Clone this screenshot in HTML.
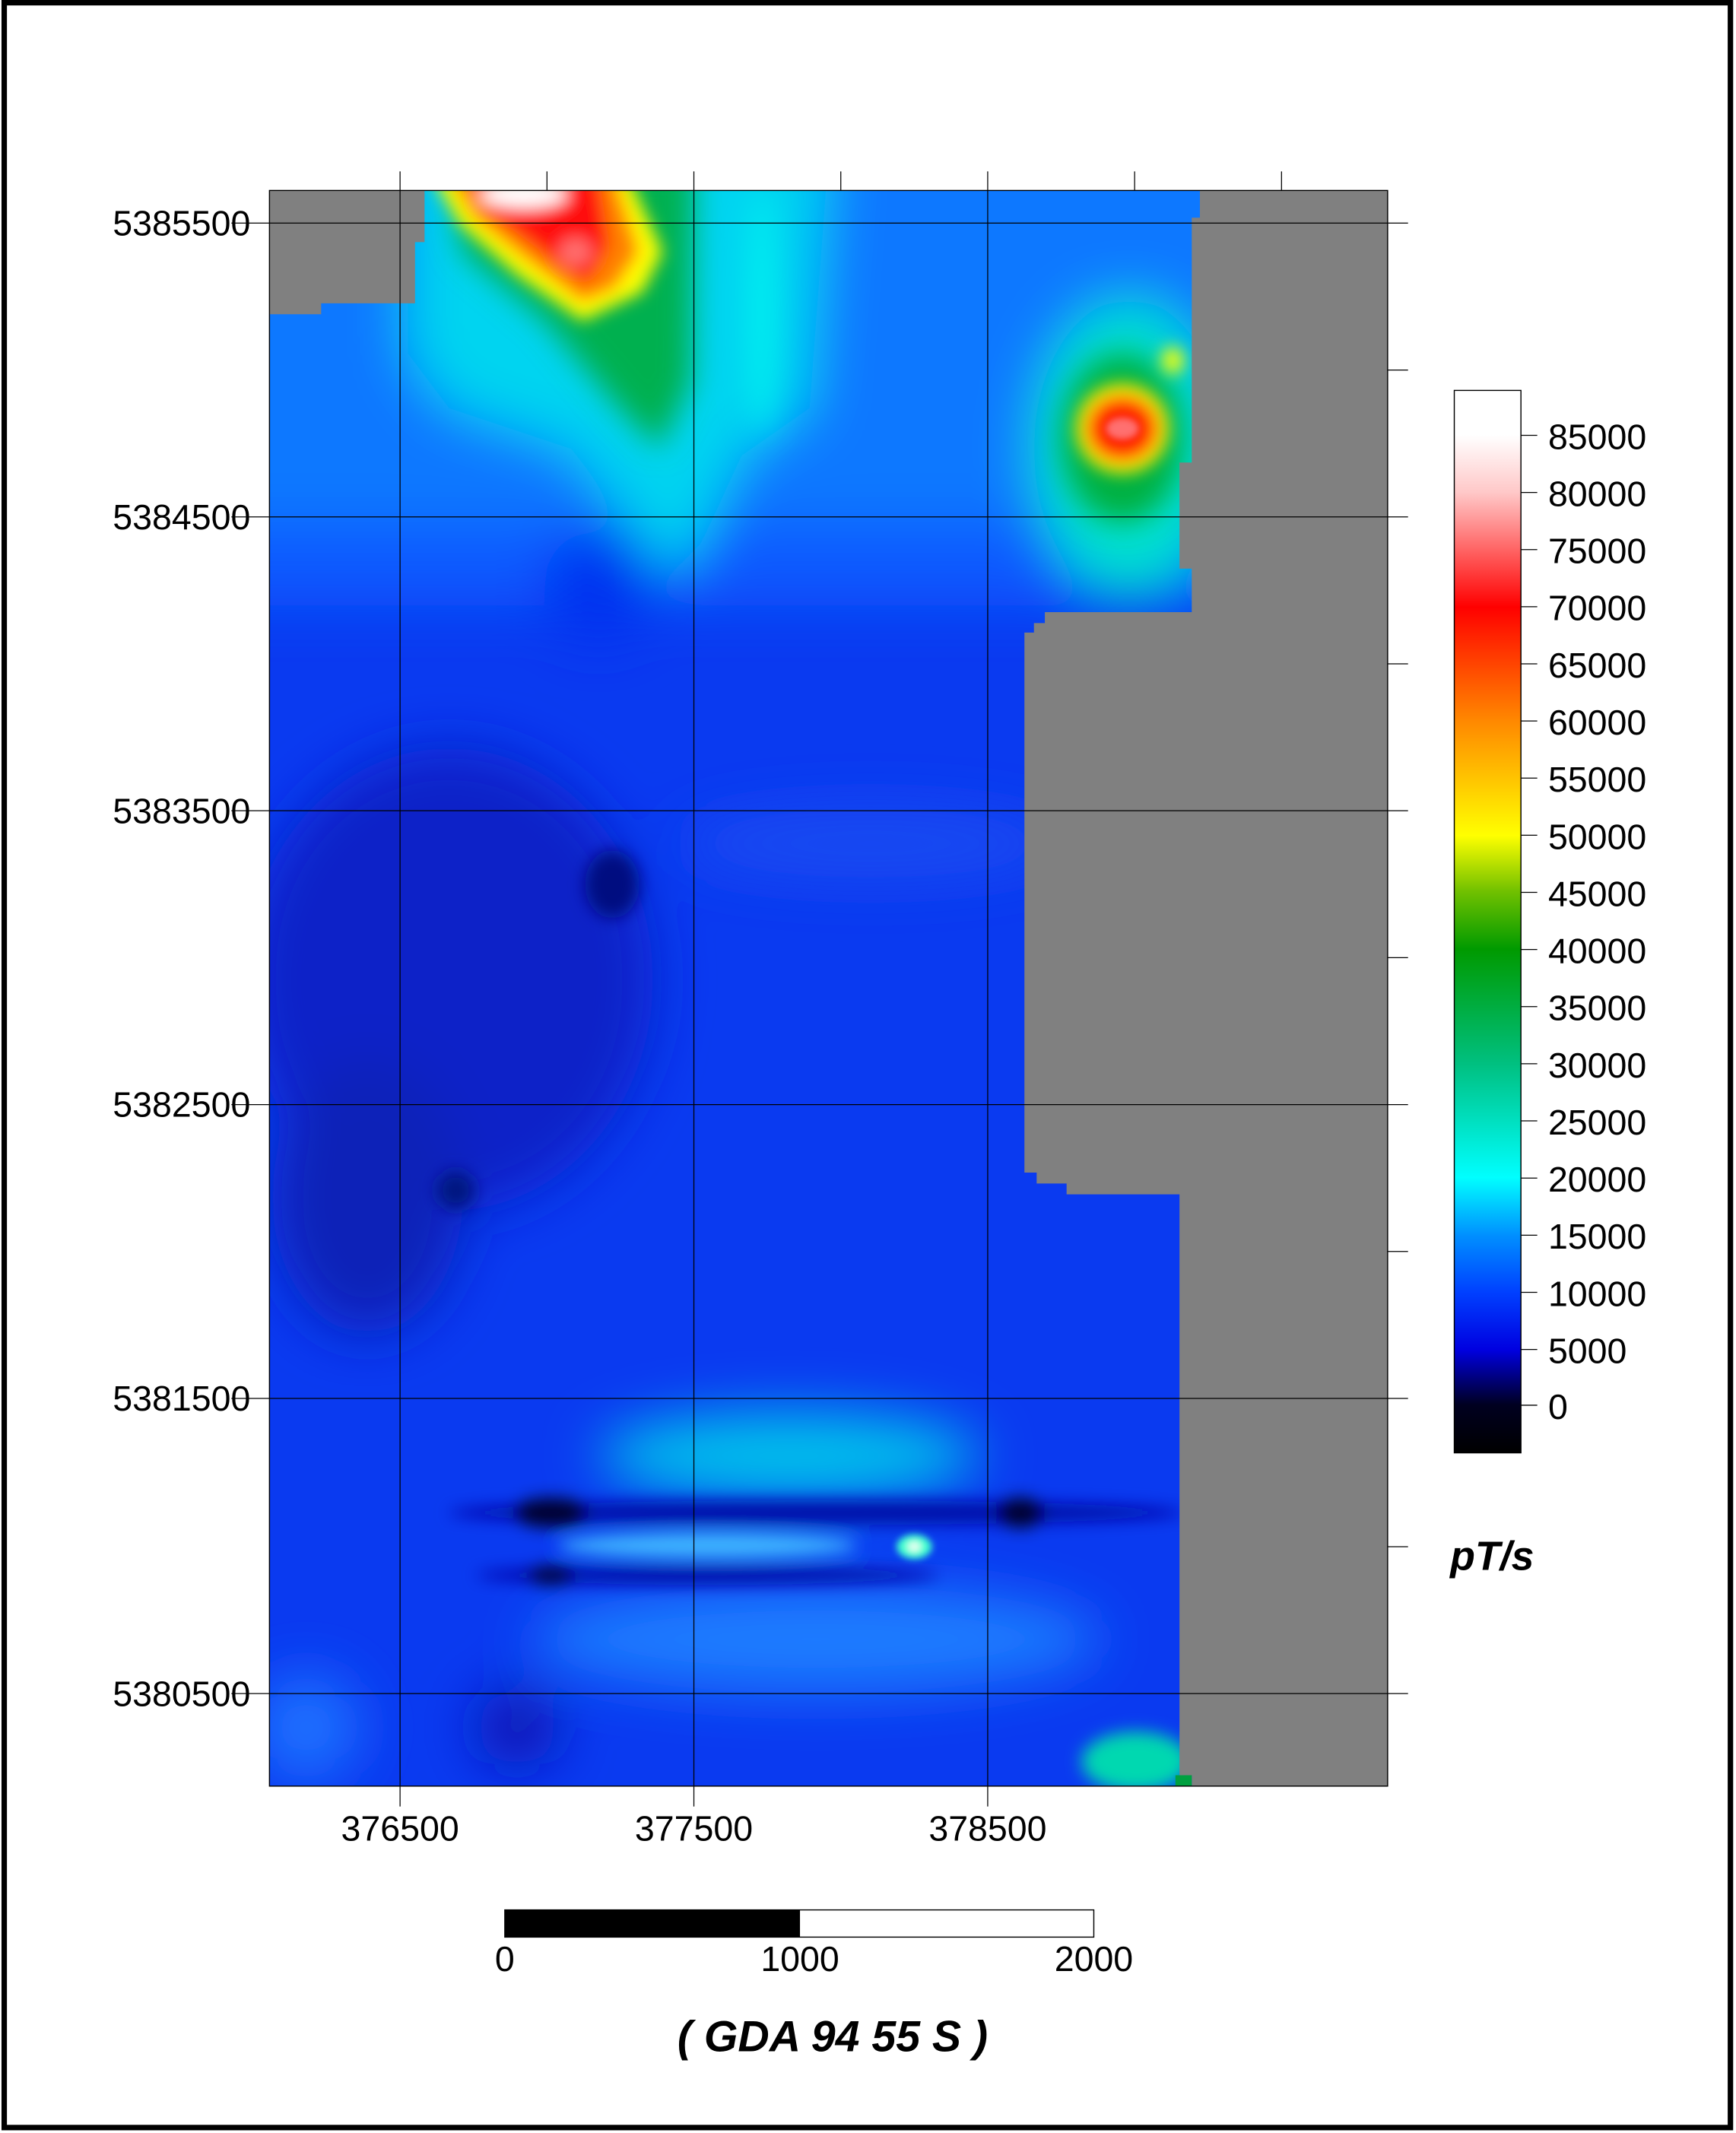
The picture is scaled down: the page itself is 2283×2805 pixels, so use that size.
<!DOCTYPE html>
<html><head><meta charset="utf-8"><style>html,body{margin:0;padding:0;background:#fff}svg{display:block}</style></head><body>
<svg width="2283" height="2805" viewBox="0 0 1276 1568" xmlns="http://www.w3.org/2000/svg" font-family="Liberation Sans, Arial, sans-serif">
<defs>
<filter id="b1" filterUnits="userSpaceOnUse" x="100" y="60" width="1000" height="1320"><feGaussianBlur stdDeviation="20"/></filter>
<filter id="b4" filterUnits="userSpaceOnUse" x="100" y="60" width="1000" height="1320"><feGaussianBlur stdDeviation="11"/></filter>
<filter id="b2" filterUnits="userSpaceOnUse" x="100" y="60" width="1000" height="1320"><feGaussianBlur stdDeviation="6"/></filter>
<filter id="b3" filterUnits="userSpaceOnUse" x="100" y="60" width="1000" height="1320"><feGaussianBlur stdDeviation="2.5"/></filter>
<clipPath id="mc"><rect x="198" y="140" width="822" height="1173"/></clipPath>
<linearGradient id="cb" x1="0" y1="0" x2="0" y2="1">
<stop offset="0" stop-color="#fff"/><stop offset=".042" stop-color="#fff"/>
<stop offset=".096" stop-color="#ffc8c8"/><stop offset=".204" stop-color="#ff0000"/>
<stop offset=".311" stop-color="#ff8800"/><stop offset=".419" stop-color="#ffff00"/>
<stop offset=".472" stop-color="#70c000"/><stop offset=".526" stop-color="#009a00"/>
<stop offset=".634" stop-color="#00c080"/><stop offset=".741" stop-color="#00ffff"/>
<stop offset=".795" stop-color="#0090ff"/><stop offset=".849" stop-color="#0040ff"/>
<stop offset=".903" stop-color="#0000e0"/><stop offset=".955" stop-color="#000020"/>
<stop offset="1" stop-color="#000"/></linearGradient>
</defs>
<rect x="3" y="2" width="1269" height="1562" fill="#fff" stroke="#000" stroke-width="4"/>
<g clip-path="url(#mc)">
<rect x="150" y="100" width="920" height="1260" fill="#0a3af0"/>
<g filter="url(#b1)">
<rect x="120" y="80" width="960" height="305" fill="#0a78ff"/>
<rect x="120" y="385" width="960" height="60" fill="#0a5aff"/>
<polygon points="300,100 610,100 595,300 545,335 515,400 492,425 468,392 420,330 330,300 300,260" fill="#00d4f0"/>
<ellipse cx="830" cy="330" rx="70" ry="110" fill="#00e0d0"/>
<ellipse cx="330" cy="720" rx="150" ry="170" fill="#0a24c8"/>
<ellipse cx="270" cy="880" rx="70" ry="100" fill="#0a20b8"/>
<ellipse cx="640" cy="620" rx="140" ry="25" fill="#1a4cf2"/>
<ellipse cx="440" cy="430" rx="40" ry="40" fill="#0030f0"/>
<ellipse cx="580" cy="1070" rx="140" ry="32" fill="#00c0ec"/>
<ellipse cx="600" cy="1205" rx="210" ry="40" fill="#1a7cff"/>
<ellipse cx="225" cy="1270" rx="40" ry="40" fill="#1a70ff"/>
<ellipse cx="380" cy="1270" rx="30" ry="28" fill="#0818b0"/>
</g>
<g filter="url(#b4)">
<polygon points="330,120 510,120 508,280 485,330 455,300 400,235 340,185" fill="#00b050"/>
<ellipse cx="825" cy="322" rx="45" ry="62" fill="#00b040"/>
<ellipse cx="560" cy="230" rx="10" ry="90" fill="#00f0f0"/>
</g>
<g filter="url(#b2)">
<polygon points="318,130 462,130 487,185 472,215 428,236 380,202 338,165" fill="#ffff00"/>
<polygon points="330,130 452,130 470,185 452,212 428,222 388,192 348,160" fill="#ff8000"/>
<polygon points="345,130 440,130 448,180 432,208 405,190 362,158" fill="#ff1010"/>
<ellipse cx="423" cy="185" rx="12" ry="10" fill="#ff7070"/>
<ellipse cx="385" cy="143" rx="32" ry="10" fill="#ffffff"/>
<ellipse cx="825" cy="315" rx="34" ry="33" fill="#ffee00"/>
<ellipse cx="825" cy="315" rx="26" ry="24" fill="#ff2000"/>
<ellipse cx="862" cy="265" rx="8" ry="10" fill="#ffff00"/>
<ellipse cx="450" cy="650" rx="20" ry="25" fill="#001080"/>
<ellipse cx="335" cy="875" rx="14" ry="14" fill="#001880"/>
<ellipse cx="600" cy="1112" rx="270" ry="9" fill="#0010a8"/>
<ellipse cx="520" cy="1158" rx="170" ry="7" fill="#0010a8"/>
<ellipse cx="520" cy="1136" rx="110" ry="9" fill="#40b8ff"/>
<ellipse cx="405" cy="1112" rx="28" ry="11" fill="#000030"/>
<ellipse cx="750" cy="1112" rx="18" ry="11" fill="#000030"/>
<ellipse cx="405" cy="1158" rx="18" ry="7" fill="#000040"/>
<ellipse cx="835" cy="1295" rx="40" ry="22" fill="#00d8b0"/>
</g>
<g filter="url(#b3)">
<ellipse cx="825" cy="315" rx="12" ry="8" fill="#ff7070"/>
<ellipse cx="672" cy="1137" rx="13" ry="9" fill="#40ffd0"/>
<ellipse cx="672" cy="1137" rx="5" ry="4" fill="#e0fff0"/>
</g>
</g>
<polygon points="198,140 312,140 312,178 305,178 305,223 236,223 236,231 198,231" fill="#808080"/>
<polygon points="882,140 1020,140 1020,1313 876,1313 876,1305 867,1305 867,878 784,878 784,870 762,870 762,862 753,862 753,465 760,465 760,458 768,458 768,450 876,450 876,418 867,418 867,340 876,340 876,160 882,160" fill="#808080"/>
<rect x="864" y="1305" width="12" height="8" fill="#00a040"/>
<rect x="198" y="140" width="822" height="1173" fill="none" stroke="#000" stroke-width="0.8"/>
<g stroke="#000" stroke-width="0.7">
<line x1="294" y1="126" x2="294" y2="1328"/><line x1="510" y1="126" x2="510" y2="1328"/><line x1="726" y1="126" x2="726" y2="1328"/>
<line x1="402" y1="126" x2="402" y2="140"/><line x1="618" y1="126" x2="618" y2="140"/><line x1="834" y1="126" x2="834" y2="140"/><line x1="942" y1="126" x2="942" y2="140"/>
<line x1="170" y1="164" x2="1035" y2="164"/><line x1="170" y1="380" x2="1035" y2="380"/><line x1="170" y1="596" x2="1035" y2="596"/>
<line x1="170" y1="812" x2="1035" y2="812"/><line x1="170" y1="1028" x2="1035" y2="1028"/><line x1="170" y1="1245" x2="1035" y2="1245"/>
<line x1="1020" y1="272" x2="1035" y2="272"/><line x1="1020" y1="488" x2="1035" y2="488"/><line x1="1020" y1="704" x2="1035" y2="704"/>
<line x1="1020" y1="920" x2="1035" y2="920"/><line x1="1020" y1="1137" x2="1035" y2="1137"/>
</g>
<g font-size="26" text-anchor="end" fill="#000">
<text x="184" y="173">5385500</text><text x="184" y="389">5384500</text><text x="184" y="605">5383500</text>
<text x="184" y="821">5382500</text><text x="184" y="1037">5381500</text><text x="184" y="1254">5380500</text>
</g>
<g font-size="26" text-anchor="middle">
<text x="294" y="1353">376500</text><text x="510" y="1353">377500</text><text x="726" y="1353">378500</text>
</g>
<rect x="1069" y="287" width="49" height="781" fill="url(#cb)" stroke="#000" stroke-width="0.8"/>
<g stroke="#000" stroke-width="0.7">
<line x1="1118" y1="320" x2="1130" y2="320"/><line x1="1118" y1="362" x2="1130" y2="362"/><line x1="1118" y1="404" x2="1130" y2="404"/>
<line x1="1118" y1="446" x2="1130" y2="446"/><line x1="1118" y1="488" x2="1130" y2="488"/><line x1="1118" y1="530" x2="1130" y2="530"/>
<line x1="1118" y1="572" x2="1130" y2="572"/><line x1="1118" y1="614" x2="1130" y2="614"/><line x1="1118" y1="656" x2="1130" y2="656"/>
<line x1="1118" y1="698" x2="1130" y2="698"/><line x1="1118" y1="740" x2="1130" y2="740"/><line x1="1118" y1="782" x2="1130" y2="782"/>
<line x1="1118" y1="824" x2="1130" y2="824"/><line x1="1118" y1="866" x2="1130" y2="866"/><line x1="1118" y1="908" x2="1130" y2="908"/>
<line x1="1118" y1="950" x2="1130" y2="950"/><line x1="1118" y1="992" x2="1130" y2="992"/><line x1="1118" y1="1033" x2="1130" y2="1033"/>
</g>
<g font-size="26">
<text x="1138" y="330">85000</text><text x="1138" y="372">80000</text><text x="1138" y="414">75000</text>
<text x="1138" y="456">70000</text><text x="1138" y="498">65000</text><text x="1138" y="540">60000</text>
<text x="1138" y="582">55000</text><text x="1138" y="624">50000</text><text x="1138" y="666">45000</text>
<text x="1138" y="708">40000</text><text x="1138" y="750">35000</text><text x="1138" y="792">30000</text>
<text x="1138" y="834">25000</text><text x="1138" y="876">20000</text><text x="1138" y="918">15000</text>
<text x="1138" y="960">10000</text><text x="1138" y="1002">5000</text><text x="1138" y="1043">0</text>
</g>
<text x="1066" y="1154" font-size="30" font-weight="bold" font-style="italic">pT/s</text>
<rect x="371" y="1404" width="433" height="20" fill="#fff" stroke="#000" stroke-width="0.8"/>
<rect x="371" y="1404" width="217" height="20" fill="#000"/>
<g font-size="26" text-anchor="middle">
<text x="371" y="1449">0</text><text x="588" y="1449">1000</text><text x="804" y="1449">2000</text>
</g>
<text x="612" y="1508" font-size="32" font-weight="bold" font-style="italic" text-anchor="middle">( GDA 94 55 S )</text>
</svg>
</body></html>
